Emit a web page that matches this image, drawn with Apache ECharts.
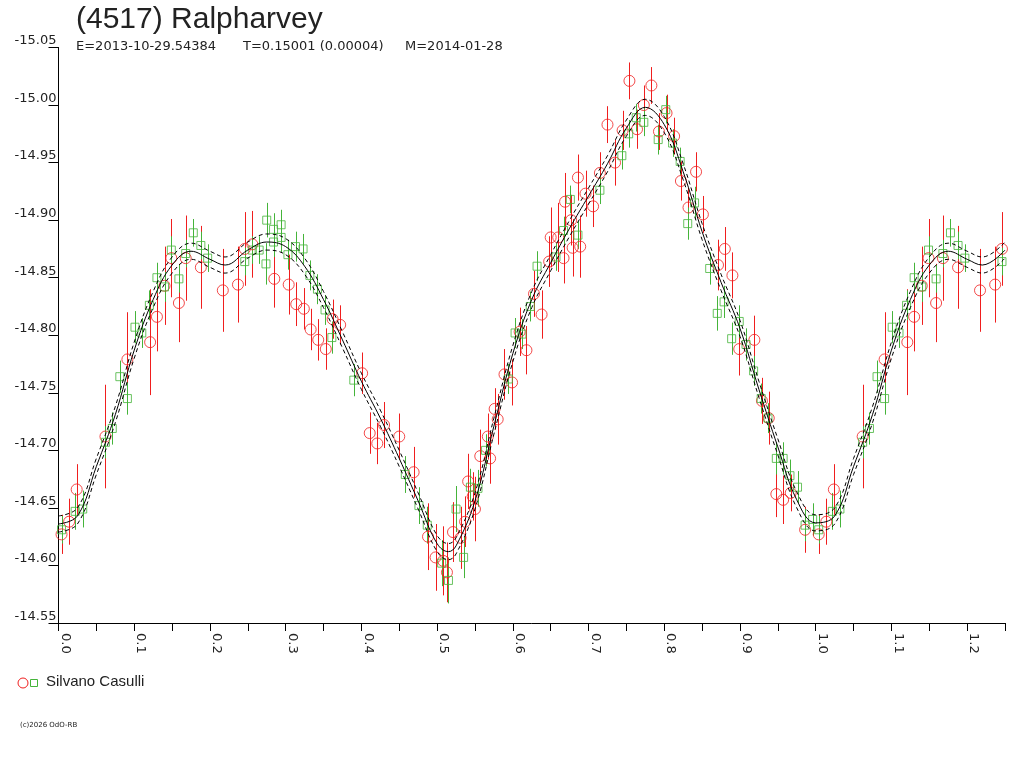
<!DOCTYPE html>
<html>
<head>
<meta charset="utf-8">
<script src="https://cdn.jsdelivr.net/npm/echarts@6/dist/echarts.min.js"></script>
<style>
html,body{margin:0;padding:0;background:#fff;}
#c{width:1024px;height:768px;}
</style>
</head>
<body>
<div id="c"></div>
<script>
// ---- data ----
const redPhase = [0.004,0.014,0.024,0.062,0.091,0.121,0.130,0.140,0.149,0.159,0.168,0.188,0.217,0.237,0.246,0.256,0.285,0.304,0.314,0.324,0.333,0.343,0.353,0.362,0.372,0.401,0.411,0.421,0.430,0.450,0.469,0.488,0.498,0.508,0.513,0.521,0.531,0.537,0.541,0.547,0.550,0.557,0.567,0.570,0.576,0.580,0.589,0.599,0.609,0.618,0.628,0.638,0.648,0.650,0.660,0.667,0.669,0.677,0.679,0.686,0.689,0.696,0.706,0.715,0.725,0.735,0.745,0.754,0.764,0.773,0.783,0.793,0.803,0.813,0.822,0.832,0.842,0.851,0.871,0.880,0.890,0.899,0.919,0.929,0.938,0.948,0.957,0.967,0.986];
const redMag = [-14.627,-14.638,-14.666,-14.712,-14.779,-14.794,-14.816,-14.843,-14.867,-14.828,-14.867,-14.859,-14.839,-14.844,-14.875,-14.879,-14.849,-14.844,-14.827,-14.823,-14.805,-14.796,-14.788,-14.814,-14.809,-14.767,-14.715,-14.706,-14.722,-14.712,-14.681,-14.625,-14.607,-14.604,-14.594,-14.629,-14.624,-14.638,-14.673,-14.660,-14.649,-14.695,-14.712,-14.693,-14.736,-14.727,-14.766,-14.759,-14.803,-14.787,-14.836,-14.818,-14.864,-14.885,-14.885,-14.867,-14.916,-14.900,-14.876,-14.937,-14.877,-14.923,-14.912,-14.941,-14.983,-14.950,-14.978,-15.021,-14.979,-15.000,-15.017,-14.977,-14.993,-14.973,-14.934,-14.911,-14.942,-14.905,-14.861,-14.875,-14.852,-14.788,-14.796,-14.743,-14.728,-14.662,-14.657,-14.663,-14.631];
const redErr = [0.017,0.020,0.022,0.045,0.041,0.046,0.030,0.034,0.034,0.034,0.037,0.036,0.036,0.033,0.032,0.029,0.025,0.026,0.019,0.018,0.018,0.018,0.018,0.017,0.017,0.018,0.018,0.018,0.020,0.020,0.022,0.029,0.029,0.030,0.026,0.026,0.027,0.022,0.024,0.021,0.028,0.023,0.020,0.022,0.018,0.022,0.022,0.020,0.021,0.021,0.020,0.021,0.022,0.026,0.030,0.022,0.025,0.022,0.025,0.020,0.027,0.020,0.018,0.018,0.016,0.020,0.017,0.016,0.017,0.017,0.016,0.016,0.016,0.016,0.017,0.017,0.017,0.016,0.022,0.019,0.020,0.023,0.021,0.020,0.023,0.020,0.021,0.016,0.020];

const greenPhase = [0.004,0.022,0.032,0.062,0.071,0.081,0.091,0.101,0.110,0.120,0.130,0.140,0.149,0.159,0.168,0.178,0.188,0.197,0.246,0.256,0.265,0.274,0.275,0.284,0.284,0.294,0.294,0.303,0.313,0.323,0.332,0.342,0.352,0.361,0.390,0.458,0.476,0.487,0.506,0.515,0.525,0.535,0.544,0.554,0.564,0.594,0.603,0.612,0.623,0.632,0.657,0.667,0.676,0.686,0.715,0.744,0.753,0.763,0.773,0.792,0.802,0.811,0.821,0.831,0.840,0.860,0.870,0.879,0.889,0.899,0.908,0.918,0.928,0.937,0.948,0.957,0.966,0.976,0.986,0.996];
const greenMag = [-14.631,-14.647,-14.649,-14.707,-14.719,-14.764,-14.745,-14.807,-14.802,-14.826,-14.850,-14.842,-14.874,-14.849,-14.871,-14.889,-14.878,-14.867,-14.864,-14.874,-14.874,-14.862,-14.900,-14.892,-14.881,-14.896,-14.885,-14.870,-14.877,-14.875,-14.852,-14.840,-14.822,-14.798,-14.761,-14.679,-14.652,-14.635,-14.602,-14.587,-14.649,-14.607,-14.668,-14.667,-14.700,-14.762,-14.802,-14.801,-14.825,-14.860,-14.868,-14.891,-14.918,-14.887,-14.926,-14.956,-14.975,-14.989,-14.985,-14.970,-14.996,-14.967,-14.951,-14.897,-14.915,-14.858,-14.819,-14.829,-14.797,-14.812,-14.792,-14.769,-14.745,-14.728,-14.693,-14.693,-14.678,-14.668,-14.635,-14.640];
const greenErr = [0.012,0.016,0.016,0.014,0.014,0.014,0.014,0.014,0.013,0.013,0.013,0.013,0.012,0.012,0.012,0.012,0.012,0.012,0.012,0.012,0.012,0.018,0.015,0.014,0.013,0.013,0.013,0.013,0.013,0.013,0.013,0.013,0.013,0.014,0.014,0.016,0.016,0.016,0.020,0.020,0.020,0.018,0.016,0.016,0.014,0.013,0.013,0.013,0.013,0.013,0.012,0.012,0.012,0.012,0.012,0.012,0.012,0.012,0.012,0.013,0.012,0.012,0.012,0.014,0.014,0.014,0.015,0.014,0.014,0.014,0.014,0.013,0.013,0.013,0.014,0.014,0.014,0.014,0.014,0.014];

const curvePhase = [0,0.025,0.05,0.075,0.1,0.125,0.15,0.175,0.2,0.22,0.25,0.275,0.3,0.325,0.35,0.375,0.4,0.425,0.45,0.475,0.5,0.515,0.525,0.55,0.575,0.6,0.625,0.65,0.675,0.7,0.725,0.75,0.775,0.8,0.825,0.85,0.875,0.9,0.925,0.95,0.975,1.0];
const curveMid = [-14.636,-14.643,-14.686,-14.731,-14.787,-14.831,-14.861,-14.873,-14.866,-14.861,-14.874,-14.881,-14.877,-14.860,-14.831,-14.796,-14.760,-14.728,-14.693,-14.656,-14.619,-14.612,-14.617,-14.656,-14.721,-14.784,-14.831,-14.863,-14.893,-14.921,-14.949,-14.980,-14.998,-14.983,-14.942,-14.890,-14.846,-14.806,-14.753,-14.703,-14.657,-14.637];
const curveUpper = [-14.643,-14.650,-14.693,-14.738,-14.794,-14.838,-14.868,-14.880,-14.873,-14.868,-14.881,-14.888,-14.884,-14.867,-14.838,-14.803,-14.767,-14.735,-14.700,-14.663,-14.626,-14.619,-14.624,-14.663,-14.728,-14.791,-14.838,-14.870,-14.900,-14.928,-14.956,-14.987,-15.005,-14.990,-14.949,-14.897,-14.853,-14.813,-14.760,-14.710,-14.664,-14.644];
const curveLower = [-14.629,-14.636,-14.679,-14.724,-14.780,-14.824,-14.854,-14.866,-14.859,-14.854,-14.867,-14.874,-14.870,-14.853,-14.824,-14.789,-14.753,-14.721,-14.686,-14.649,-14.612,-14.605,-14.610,-14.649,-14.714,-14.777,-14.824,-14.856,-14.886,-14.914,-14.942,-14.973,-14.991,-14.976,-14.935,-14.883,-14.839,-14.799,-14.746,-14.696,-14.650,-14.630];

const yTicks = ['-15.05','-15.00','-14.95','-14.90','-14.85','-14.80','-14.75','-14.70','-14.65','-14.60','-14.55'];
const xLabels = ['0.0','0.1','0.2','0.3','0.4','0.5','0.6','0.7','0.8','0.9','1.0','1.1','1.2'];

const titleText = '(4517) Ralpharvey';
const subTexts = ['E=2013-10-29.54384', 'T=0.15001 (0.00004)', 'M=2014-01-28'];
const observer = 'Silvano Casulli';
const copyright = '(c)2026 OdO-RB';

// ---- build (phase-wrapped like the original: phases up to 0.25 repeated after 1.0) ----
const WRAP = 0.25;
function points(ph, mag, err) {
  const out = [];
  for (let i = 0; i < ph.length; i++) {
    out.push([ph[i], mag[i], err ? err[i] : 0]);
  }
  for (let i = 0; i < ph.length; i++) {
    if (ph[i] > 0 && ph[i] <= WRAP) out.push([ph[i] + 1, mag[i], err ? err[i] : 0]);
  }
  return out;
}
function curve(ph, mag) {
  const out = [];
  for (let i = 0; i < ph.length; i++) out.push([ph[i], mag[i]]);
  for (let i = 0; i < ph.length; i++) if (ph[i] > 0 && ph[i] <= WRAP) out.push([ph[i] + 1, mag[i]]);
  return out;
}
const redData = points(redPhase, redMag, redErr);
const greenData = points(greenPhase, greenMag, greenErr);

const RED = '#f01e1e';
const GREEN = '#45b43a';
const FONT = 'DejaVu Sans';

function errBar(color) {
  return function (params, api) {
    const x = api.value(0), y = api.value(1), e = api.value(2);
    const p1 = api.coord([x, y - e]);
    const p2 = api.coord([x, y + e]);
    const px = Math.round(p1[0]) + 0.5;
    return {
      type: 'line',
      shape: { x1: px, y1: p1[1], x2: px, y2: p2[1] },
      style: { stroke: color, lineWidth: 1 }
    };
  };
}

const chart = echarts.init(document.getElementById('c'), null, { renderer: 'canvas' });
chart.setOption({
  animation: false,
  backgroundColor: '#fff',
  grid: { left: 58.5, right: 19, top: 47.5, bottom: 145, containLabel: false },
  xAxis: {
    type: 'value', min: 0, max: 1.25, interval: 0.05,
    axisLine: { show: true, lineStyle: { color: '#000', width: 1 } },
    axisTick: { show: true, length: 8, lineStyle: { color: '#000' } },
    splitLine: { show: false },
    axisLabel: {
      rotate: -90, margin: 10, verticalAlign: 'bottom', align: 'left',
      fontFamily: FONT, fontSize: 13, color: '#222',
      formatter: function (v) {
        const k = Math.round(v * 100);
        return k % 10 === 0 ? xLabels[k / 10] || '' : '';
      }
    }
  },
  yAxis: {
    type: 'value', inverse: true, min: -15.05, max: -14.55, interval: 0.05,
    axisLine: { show: true, lineStyle: { color: '#000', width: 1 } },
    axisTick: { show: true, length: 10, lineStyle: { color: '#000' } },
    splitLine: { show: false },
    axisLabel: {
      margin: 2, verticalAlign: 'bottom', fontFamily: FONT, fontSize: 13, color: '#222',
      formatter: function (v) {
        const k = Math.round((v + 15.05) / 0.05);
        return yTicks[k] || '';
      }
    }
  },
  series: [
    { type: 'custom', renderItem: errBar(RED), data: redData, encode: { x: 0, y: 1 }, z: 1, silent: true },
    { type: 'custom', renderItem: errBar(GREEN), data: greenData, encode: { x: 0, y: 1 }, z: 1, silent: true },
    { type: 'scatter', data: redData, symbol: 'circle', symbolSize: 11,
      itemStyle: { color: 'rgba(0,0,0,0)', borderColor: RED, borderWidth: 1 }, z: 2 },
    { type: 'scatter', data: greenData, symbol: 'rect', symbolSize: 8,
      itemStyle: { color: 'rgba(0,0,0,0)', borderColor: GREEN, borderWidth: 1 }, z: 2 },
    { type: 'line', data: curve(curvePhase, curveMid), smooth: 0.4, showSymbol: false,
      lineStyle: { color: '#000', width: 1 }, z: 3 },
    { type: 'line', data: curve(curvePhase, curveUpper), smooth: 0.4, showSymbol: false,
      lineStyle: { color: '#000', width: 1, type: [4, 3] }, z: 3 },
    { type: 'line', data: curve(curvePhase, curveLower), smooth: 0.4, showSymbol: false,
      lineStyle: { color: '#000', width: 1, type: [4, 3] }, z: 3 }
  ],
  graphic: [
    { type: 'text', left: 76, top: 5, style: { text: titleText, font: '30px "Liberation Sans", Arial, sans-serif', fill: '#222' } },
    { type: 'text', left: 76, top: 40, style: { text: subTexts[0], font: '13px "DejaVu Sans"', fill: '#222' } },
    { type: 'text', left: 243, top: 40, style: { text: subTexts[1], font: '13px "DejaVu Sans"', fill: '#222' } },
    { type: 'text', left: 405, top: 40, style: { text: subTexts[2], font: '13px "DejaVu Sans"', fill: '#222' } },
    { type: 'circle', shape: { cx: 23, cy: 683, r: 5 }, style: { fill: 'none', stroke: RED, lineWidth: 1 } },
    { type: 'rect', shape: { x: 30.5, y: 679.5, width: 7, height: 7 }, style: { fill: 'none', stroke: GREEN, lineWidth: 1 } },
    { type: 'text', left: 46, top: 674, style: { text: observer, font: '15px "Liberation Sans", Arial, sans-serif', fill: '#222' } },
    { type: 'text', left: 20, top: 722, style: { text: copyright, font: '7px "DejaVu Sans"', fill: '#222' } }
  ]
});
</script>
</body>
</html>
